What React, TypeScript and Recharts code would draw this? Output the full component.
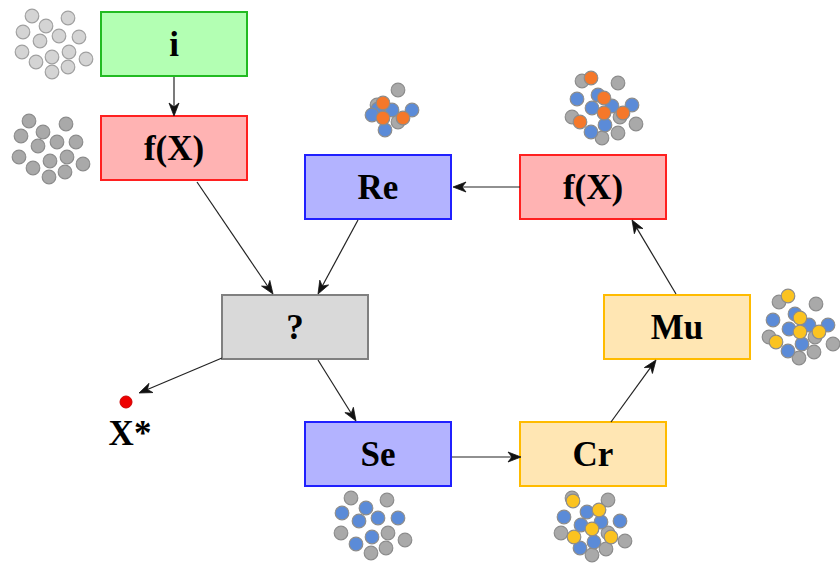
import {
  ScatterChart,
  Scatter,
  XAxis,
  YAxis,
  ReferenceArea,
  ReferenceLine,
  ReferenceDot,
} from "recharts";

// diagram nodes (centre points in picture units)
const nodeLabels = ["i", "f(X)", "Re", "f(X)", "?", "Mu", "Se", "Cr"];
const nodeX = [174, 174, 378, 593, 295, 677, 378, 593];
const nodeY = [44, 148, 187, 187, 327, 327, 454, 454];
const nodeKind = ["init", "eval", "select", "eval", "decide", "vary", "select", "vary"];

// arrows: start and tip
const edgeFrom = [
  [174, 77],
  [197, 182],
  [358, 220],
  [222, 358],
  [318, 360],
  [452, 457],
  [611, 422],
  [676, 294],
  [520, 187],
];
const edgeTo = [
  [174, 116],
  [273, 294],
  [318, 294],
  [139, 393],
  [356, 421],
  [521, 457],
  [656, 360],
  [632, 220],
  [453, 187],
];

// population clusters
const lightGray = [
  [32, 16], [68, 18], [23, 32], [46, 26], [40, 41], [59, 36], [79, 37],
  [22, 52], [36, 62], [52, 57], [69, 52], [86, 59], [52, 72], [68, 67],
];
const grayDots = [
  [29, 121], [66, 124], [21, 136], [43, 132], [38, 146], [57, 142], [76, 142],
  [19, 157], [33, 168], [50, 161], [67, 157], [83, 164], [49, 177], [65, 172],
  // Re
  [398, 90], [377, 105], [398, 122],
  // f(X) right
  [582, 81], [618, 83], [620, 117], [572, 117], [636, 124], [602, 138], [618, 133],
  // Mu
  [779, 302], [816, 304], [815, 337], [769, 337], [833, 344], [799, 358], [814, 352],
  // Se
  [351, 498], [387, 500], [341, 533], [388, 533], [405, 540], [371, 553], [386, 548],
  // Cr
  [572, 498], [608, 500], [608, 533], [561, 533], [625, 541], [592, 555], [606, 549],
];
const blueDots = [
  [378, 109], [392, 110], [412, 110], [372, 115], [385, 130],
  [577, 99], [598, 95], [592, 108], [612, 106], [632, 105], [591, 132], [605, 125],
  [773, 320], [795, 314], [789, 329], [809, 325], [828, 325], [788, 351], [802, 344],
  [342, 513], [366, 508], [359, 521], [378, 518], [398, 518], [356, 544], [372, 537],
  [564, 517], [587, 512], [581, 525], [601, 522], [620, 521], [580, 548], [594, 542],
];
const orangeDots = [
  [383, 103], [383, 118], [403, 118],
  [591, 78], [604, 98], [604, 113], [623, 113], [580, 122],
];
const yellowDots = [
  [788, 296], [800, 318], [800, 332], [819, 332], [776, 342],
  [573, 501], [599, 510], [592, 529], [611, 537], [574, 537],
];
const bestPoint = [126, 402];

const kindFill: Record<string, string> = {
  init: "#b3ffb3",
  eval: "#ffb3b3",
  select: "#b3b3ff",
  decide: "#d9d9d9",
  vary: "#ffe6b3",
};
const kindStroke: Record<string, string> = {
  init: "#22bb22",
  eval: "#ff2020",
  select: "#2020ff",
  decide: "#808080",
  vary: "#ffbb00",
};

const BOX_W = 146;
const BOX_H = 64;
const W = 840;
const H = 563;
const serif = "'Liberation Serif', 'DejaVu Serif', serif";

const toPts = (arr: number[][]) => arr.map(([x, y]) => ({ x, y }));

const dotShape = (fill: string, stroke: string) => (p: any) => (
  <circle cx={p.cx} cy={p.cy} r={6.8} fill={fill} stroke={stroke} strokeWidth={1.2} />
);

function Arrow(p: any) {
  const { x1, y1, x2, y2 } = p;
  const dx = x2 - x1;
  const dy = y2 - y1;
  const len = Math.hypot(dx, dy) || 1;
  const ux = dx / len;
  const uy = dy / len;
  const hl = 13;
  const hw = 5;
  const bx = x2 - ux * hl;
  const by = y2 - uy * hl;
  const nx = x2 - ux * hl * 0.7;
  const ny = y2 - uy * hl * 0.7;
  const d = `M${x2},${y2} L${bx - uy * hw},${by + ux * hw} L${nx},${ny} L${bx + uy * hw},${by - ux * hw} Z`;
  return (
    <g>
      <line x1={x1} y1={y1} x2={nx} y2={ny} stroke="#222" strokeWidth={1.2} />
      <path d={d} fill="#111" stroke="#111" strokeWidth={0.8} strokeLinejoin="round" />
    </g>
  );
}

export default function App() {
  return (
    <div style={{ position: "absolute", left: 0, top: 0, width: W, height: H, background: "#fff" }}>
      <ScatterChart width={W} height={H} margin={{ top: 0, right: 0, bottom: 0, left: 0 }}>
        <XAxis type="number" dataKey="x" domain={[0, W]} hide allowDataOverflow />
        <YAxis type="number" dataKey="y" domain={[0, H]} hide reversed allowDataOverflow />

        {edgeFrom.map((a, i) => (
          <ReferenceLine
            key={`e${i}`}
            segment={[
              { x: a[0], y: a[1] },
              { x: edgeTo[i][0], y: edgeTo[i][1] },
            ]}
            ifOverflow="visible"
            shape={Arrow}
          />
        ))}

        {nodeLabels.map((lab, i) => (
          <ReferenceArea
            key={`n${i}`}
            x1={nodeX[i] - BOX_W / 2}
            x2={nodeX[i] + BOX_W / 2}
            y1={nodeY[i] - BOX_H / 2}
            y2={nodeY[i] + BOX_H / 2}
            fill={kindFill[nodeKind[i]]}
            fillOpacity={1}
            stroke={kindStroke[nodeKind[i]]}
            strokeWidth={2}
            ifOverflow="visible"
            label={{
              value: lab,
              position: "center",
              fill: "#000",
              fontSize: 35,
              fontWeight: 700,
              fontFamily: serif,
            }}
          />
        ))}

        <ReferenceDot x={bestPoint[0]} y={bestPoint[1]} r={6} fill="#ee0000" stroke="#cc0000" ifOverflow="visible" />
        <ReferenceArea
          x1={95}
          x2={165}
          y1={418}
          y2={448}
          fill="none"
          stroke="none"
          ifOverflow="visible"
          label={{ value: "X*", position: "center", fill: "#000", fontSize: 35, fontWeight: 700, fontFamily: serif }}
        />

        <Scatter data={toPts(lightGray)} shape={dotShape("#d4d4d4", "#a0a0a0")} isAnimationActive={false} />
        <Scatter data={toPts(grayDots)} shape={dotShape("#a9a9a9", "#8c8c8c")} isAnimationActive={false} />
        <Scatter data={toPts(blueDots)} shape={dotShape("#5b8bd8", "#8c8c8c")} isAnimationActive={false} />
        <Scatter data={toPts(orangeDots)} shape={dotShape("#f5782a", "#8c8c8c")} isAnimationActive={false} />
        <Scatter data={toPts(yellowDots)} shape={dotShape("#fbc320", "#8c8c8c")} isAnimationActive={false} />
      </ScatterChart>
    </div>
  );
}
